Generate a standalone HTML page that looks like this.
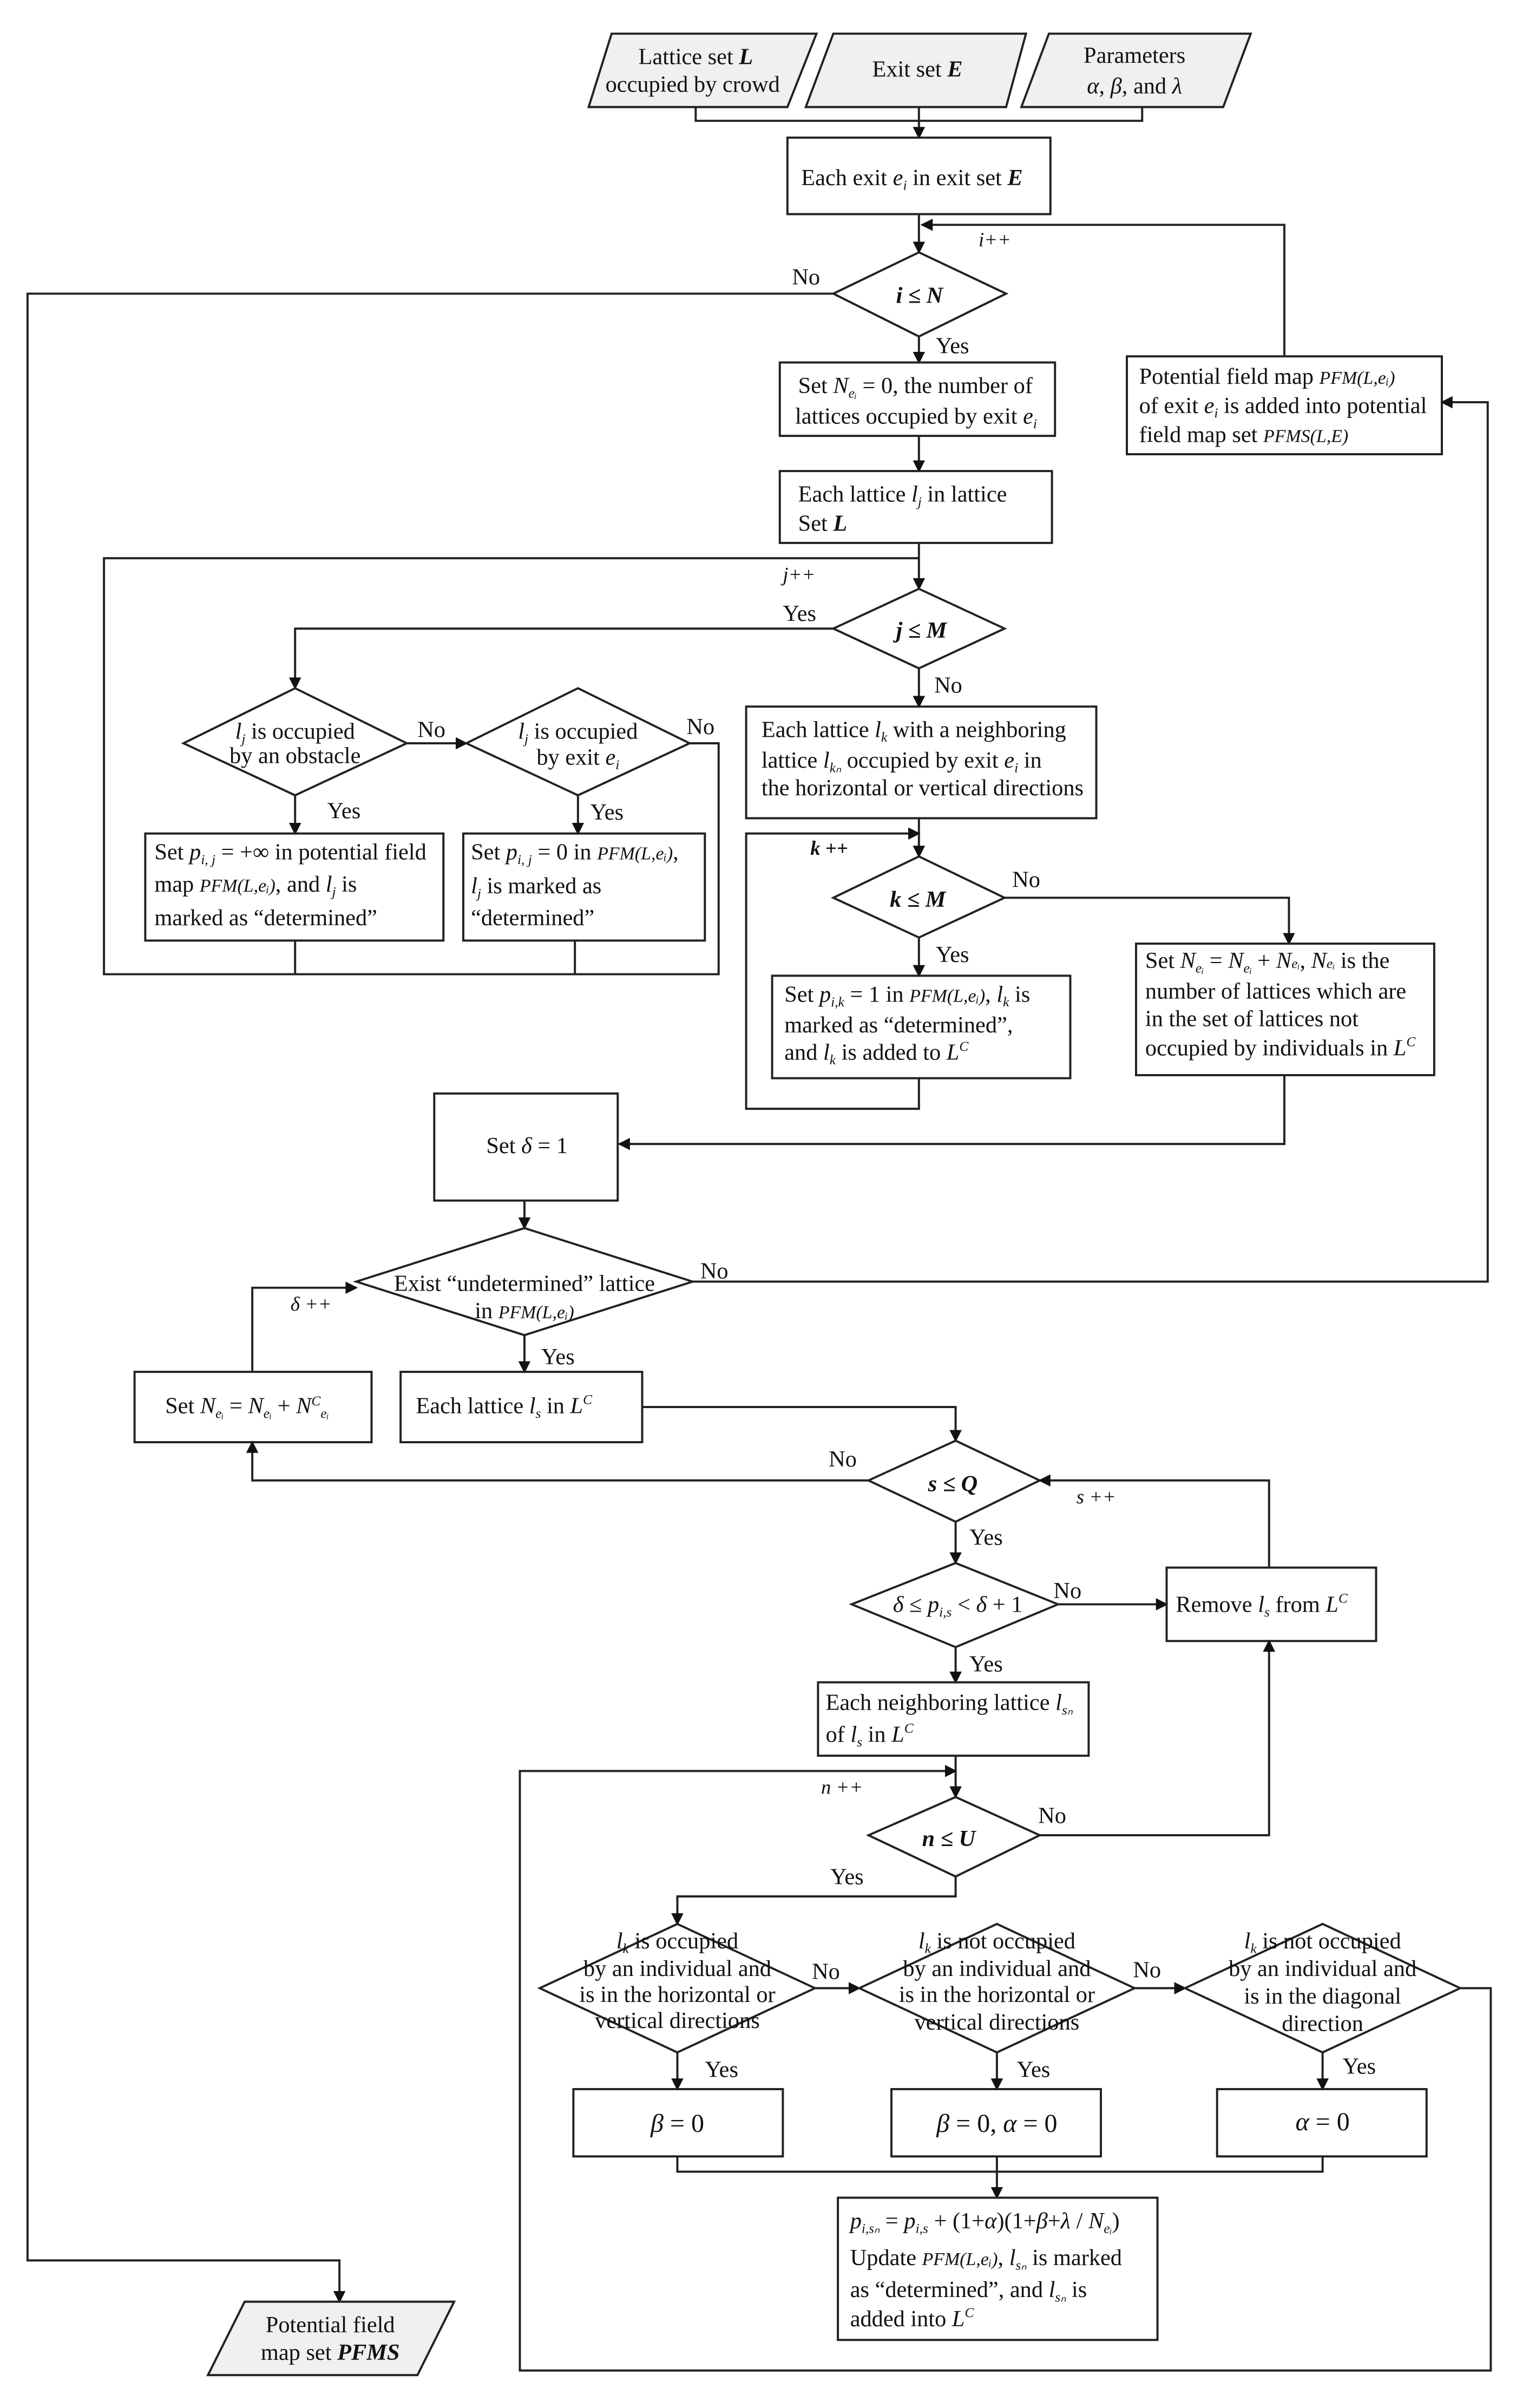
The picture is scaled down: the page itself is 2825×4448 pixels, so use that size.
<!DOCTYPE html>
<html><head><meta charset="utf-8"><style>
html,body{margin:0;padding:0;background:#fff;}
svg{display:block;}
text{font-family:"Liberation Serif",serif;font-size:15px;fill:#111;}
.i{font-style:italic;}
.b{font-weight:bold;font-style:italic;}
.s{font-size:9px;font-style:italic;}
</style></head><body>
<svg width="2825" height="4448" viewBox="0 0 1000 1574.5" xmlns="http://www.w3.org/2000/svg">
<defs><marker id="a" markerWidth="8" markerHeight="10" refX="7" refY="4" orient="auto" markerUnits="userSpaceOnUse"><path d="M0,0 L8,4 L0,8 z" fill="#111"/></marker></defs>
<g fill="none" stroke="#222" stroke-width="1.4">
<!-- inputs -->
<polygon points="400,22 534,22 515,70 385,70" fill="#f0f0f0"/>
<polygon points="545,22 671,22 658,70 527,70" fill="#f0f0f0"/>
<polygon points="686,22 818,22 800,70 668,70" fill="#f0f0f0"/>
<polyline points="455,70 455,79 747,79 747,70"/>
<line x1="601" y1="70" x2="601" y2="90" marker-end="url(#a)"/>
<rect x="515" y="90" width="172" height="50"/>
<line x1="601" y1="140" x2="601" y2="165" marker-end="url(#a)"/>
<polyline points="840,233 840,147 603,147" marker-end="url(#a)"/>
<polygon points="601,165 658,192 601,220 545,192"/>
<polyline points="545,192 18,192 18,1478 222,1478 222,1505" marker-end="url(#a)"/>
<polygon points="160,1505 297,1505 273,1553 136,1553" fill="#f0f0f0"/>
<line x1="601" y1="220" x2="601" y2="237" marker-end="url(#a)"/>
<rect x="510" y="237" width="180" height="48"/>
<line x1="601" y1="285" x2="601" y2="308" marker-end="url(#a)"/>
<rect x="510" y="308" width="178" height="47"/>
<line x1="601" y1="355" x2="601" y2="385" marker-end="url(#a)"/>
<rect x="737" y="233" width="206" height="64"/>
<polygon points="601,385 657,411 601,437 545,411"/>
<polyline points="545,411 193,411 193,450" marker-end="url(#a)"/>
<polygon points="193,450 266,486 193,520 120,486"/>
<line x1="266" y1="486" x2="305" y2="486" marker-end="url(#a)"/>
<polygon points="378,450 451,486 378,520 305,486"/>
<polyline points="451,486 470,486 470,637 68,637 68,365 601,365"/>
<line x1="193" y1="520" x2="193" y2="545" marker-end="url(#a)"/>
<line x1="378" y1="520" x2="378" y2="545" marker-end="url(#a)"/>
<rect x="95" y="545" width="195" height="70"/>
<rect x="303" y="545" width="158" height="70"/>
<line x1="193" y1="615" x2="193" y2="637"/>
<line x1="376" y1="615" x2="376" y2="637"/>
<line x1="601" y1="437" x2="601" y2="462" marker-end="url(#a)"/>
<rect x="488" y="462" width="229" height="73"/>
<line x1="601" y1="535" x2="601" y2="560" marker-end="url(#a)"/>
<polygon points="601,560 657,587 601,613 545,587"/>
<polyline points="657,587 843,587 843,617" marker-end="url(#a)"/>
<rect x="743" y="617" width="195" height="86"/>
<line x1="601" y1="613" x2="601" y2="638" marker-end="url(#a)"/>
<rect x="505" y="638" width="195" height="67"/>
<polyline points="601,705 601,725 488,725 488,545 601,545" marker-end="url(#a)"/>
<polyline points="840,703 840,748 405,748" marker-end="url(#a)"/>
<rect x="284" y="715" width="120" height="70"/>
<line x1="343" y1="785" x2="343" y2="803" marker-end="url(#a)"/>
<polygon points="343,803 453,838 343,873 233,838"/>
<polyline points="453,838 973,838 973,263 943,263" marker-end="url(#a)"/>
<line x1="343" y1="873" x2="343" y2="897" marker-end="url(#a)"/>
<rect x="262" y="897" width="158" height="46"/>
<polyline points="420,920 625,920 625,942" marker-end="url(#a)"/>
<rect x="88" y="897" width="155" height="46"/>
<polyline points="165,897 165,842 233,842" marker-end="url(#a)"/>
<polygon points="625,942 680,968 625,995 568,968"/>
<polyline points="568,968 165,968 165,943" marker-end="url(#a)"/>
<line x1="625" y1="995" x2="625" y2="1022" marker-end="url(#a)"/>
<polygon points="625,1022 692,1049 625,1077 557,1049"/>
<line x1="692" y1="1049" x2="763" y2="1049" marker-end="url(#a)"/>
<rect x="763" y="1025" width="137" height="48"/>
<polyline points="830,1025 830,968 680,968" marker-end="url(#a)"/>
<line x1="625" y1="1077" x2="625" y2="1100" marker-end="url(#a)"/>
<rect x="535" y="1100" width="177" height="48"/>
<line x1="625" y1="1148" x2="625" y2="1175" marker-end="url(#a)"/>
<polygon points="625,1175 680,1200 625,1227 568,1200"/>
<polyline points="680,1200 830,1200 830,1073" marker-end="url(#a)"/>
<polyline points="625,1227 625,1240 443,1240 443,1258" marker-end="url(#a)"/>
<polygon points="443,1258 533,1300 443,1342 353,1300"/>
<line x1="533" y1="1300" x2="562" y2="1300" marker-end="url(#a)"/>
<polygon points="652,1258 742,1300 652,1342 562,1300"/>
<line x1="742" y1="1300" x2="775" y2="1300" marker-end="url(#a)"/>
<polygon points="865,1258 955,1300 865,1342 775,1300"/>
<polyline points="955,1300 975,1300 975,1550 340,1550 340,1158 625,1158" marker-end="url(#a)"/>
<line x1="443" y1="1342" x2="443" y2="1366" marker-end="url(#a)"/>
<line x1="652" y1="1342" x2="652" y2="1366" marker-end="url(#a)"/>
<line x1="865" y1="1342" x2="865" y2="1366" marker-end="url(#a)"/>
<rect x="375" y="1366" width="137" height="44"/>
<rect x="583" y="1366" width="137" height="44"/>
<rect x="796" y="1366" width="137" height="44"/>
<polyline points="443,1410 443,1420 865,1420 865,1410"/>
<line x1="652" y1="1410" x2="652" y2="1437" marker-end="url(#a)"/>
<rect x="548" y="1437" width="209" height="93"/>
</g>
<g>
<text x="455" y="42" text-anchor="middle">Lattice set <tspan class="b">L</tspan></text>
<text x="453" y="60" text-anchor="middle">occupied by crowd</text>
<text x="600" y="50" text-anchor="middle">Exit set <tspan class="b">E</tspan></text>
<text x="742" y="41" text-anchor="middle">Parameters</text>
<text x="742" y="61" text-anchor="middle"><tspan class="i">α</tspan>,  <tspan class="i">β</tspan>,  and <tspan class="i">λ</tspan></text>
<text x="524" y="121">Each exit  <tspan class="i">e</tspan><tspan class="s" dy="3">i</tspan><tspan dy="-3"> in exit set </tspan><tspan class="b">E</tspan></text>
<text x="640" y="161" class="i" style="font-size:13px">i++</text>
<text x="518" y="186">No</text>
<text x="586" y="198" class="b" style="font-weight:bold">i ≤ N</text>
<text x="612" y="231">Yes</text>
<text x="522" y="257">Set  <tspan class="i">N</tspan><tspan class="s" dy="3">eᵢ</tspan><tspan dy="-3"> = 0, the number of</tspan></text>
<text x="520" y="277">lattices occupied by exit  <tspan class="i">e</tspan><tspan class="s" dy="3">i</tspan></text>
<text x="522" y="328">Each lattice  <tspan class="i">l</tspan><tspan class="s" dy="3">j</tspan><tspan dy="-3">  in lattice</tspan></text>
<text x="522" y="347">Set <tspan class="b">L</tspan></text>
<text x="745" y="251">Potential field map  <tspan class="i" style="font-size:12px">PFM(L,eᵢ)</tspan></text>
<text x="745" y="270">of exit  <tspan class="i">e</tspan><tspan class="s" dy="3">i</tspan><tspan dy="-3"> is added into potential</tspan></text>
<text x="745" y="289">field map set  <tspan class="i" style="font-size:12px">PFMS(L,E)</tspan></text>
<text x="512" y="380" class="i" style="font-size:13px">j++</text>
<text x="512" y="406">Yes</text>
<text x="586" y="417" class="b" style="font-weight:bold">j ≤ M</text>
<text x="611" y="453">No</text>
<text x="193" y="483" text-anchor="middle"><tspan class="i">l</tspan><tspan class="s" dy="3">j</tspan><tspan dy="-3"> is occupied</tspan></text>
<text x="193" y="499" text-anchor="middle">by an obstacle</text>
<text x="273" y="482">No</text>
<text x="378" y="483" text-anchor="middle"><tspan class="i">l</tspan><tspan class="s" dy="3">j</tspan><tspan dy="-3"> is occupied</tspan></text>
<text x="378" y="500" text-anchor="middle">by exit <tspan class="i">e</tspan><tspan class="s" dy="3">i</tspan></text>
<text x="449" y="480">No</text>
<text x="214" y="535">Yes</text>
<text x="386" y="536">Yes</text>
<text x="101" y="562">Set  <tspan class="i">p</tspan><tspan class="s" dy="3">i, j</tspan><tspan dy="-3"> = +∞ in potential field</tspan></text>
<text x="101" y="583">map <tspan class="i" style="font-size:12px">PFM(L,eᵢ)</tspan>, and  <tspan class="i">l</tspan><tspan class="s" dy="3">j</tspan><tspan dy="-3">  is</tspan></text>
<text x="101" y="605">marked as “determined”</text>
<text x="308" y="562">Set  <tspan class="i">p</tspan><tspan class="s" dy="3">i, j</tspan><tspan dy="-3"> = 0 in  </tspan><tspan class="i" style="font-size:12px">PFM(L,eᵢ)</tspan>,</text>
<text x="308" y="584"><tspan class="i">l</tspan><tspan class="s" dy="3">j</tspan><tspan dy="-3">  is  marked as</tspan></text>
<text x="308" y="605">“determined”</text>
<text x="498" y="482">Each lattice  <tspan class="i">l</tspan><tspan class="s" dy="3">k</tspan><tspan dy="-3"> with a neighboring</tspan></text>
<text x="498" y="502">lattice  <tspan class="i">l</tspan><tspan class="s" dy="3">kₙ</tspan><tspan dy="-3">  occupied by exit  </tspan><tspan class="i">e</tspan><tspan class="s" dy="3">i</tspan><tspan dy="-3">  in</tspan></text>
<text x="498" y="520">the horizontal or vertical directions</text>
<text x="530" y="559" class="b" style="font-size:13px">k ++</text>
<text x="582" y="593" class="b" style="font-weight:bold">k ≤ M</text>
<text x="662" y="580">No</text>
<text x="612" y="629">Yes</text>
<text x="513" y="655">Set  <tspan class="i">p</tspan><tspan class="s" dy="3">i,k</tspan><tspan dy="-3"> = 1  in  </tspan><tspan class="i" style="font-size:12px">PFM(L,eᵢ)</tspan>,  <tspan class="i">l</tspan><tspan class="s" dy="3">k</tspan><tspan dy="-3">  is</tspan></text>
<text x="513" y="675">marked as  “determined”,</text>
<text x="513" y="693">and  <tspan class="i">l</tspan><tspan class="s" dy="3">k</tspan><tspan dy="-3"> is added to  </tspan><tspan class="i">L</tspan><tspan class="s" dy="-6">C</tspan></text>
<text x="749" y="633">Set  <tspan class="i">N</tspan><tspan class="s" dy="3">eᵢ</tspan><tspan dy="-3"> = </tspan><tspan class="i">N</tspan><tspan class="s" dy="3">eᵢ</tspan><tspan dy="-3"> + </tspan><tspan class="i">N</tspan><tspan class="s">eᵢ</tspan><tspan>,  </tspan><tspan class="i">N</tspan><tspan class="s">eᵢ</tspan><tspan> is the</tspan></text>
<text x="749" y="653">number of lattices which are</text>
<text x="749" y="671">in the set of lattices not</text>
<text x="749" y="690">occupied by individuals in  <tspan class="i">L</tspan><tspan class="s" dy="-6">C</tspan></text>
<text x="318" y="754">Set   <tspan class="i">δ</tspan> = 1</text>
<text x="343" y="844" text-anchor="middle">Exist “undetermined” lattice</text>
<text x="343" y="862" text-anchor="middle">in <tspan class="i" style="font-size:12px">PFM(L,eᵢ)</tspan></text>
<text x="458" y="836">No</text>
<text x="190" y="857" class="i" style="font-size:13px">δ ++</text>
<text x="354" y="892">Yes</text>
<text x="272" y="924">Each lattice  <tspan class="i">l</tspan><tspan class="s" dy="3">s</tspan><tspan dy="-3">  in  </tspan><tspan class="i">L</tspan><tspan class="s" dy="-6">C</tspan></text>
<text x="108" y="924">Set   <tspan class="i">N</tspan><tspan class="s" dy="3">eᵢ</tspan><tspan dy="-3"> = </tspan><tspan class="i">N</tspan><tspan class="s" dy="3">eᵢ</tspan><tspan dy="-3"> + </tspan><tspan class="i">N</tspan><tspan class="s" dy="-5">C</tspan><tspan class="s" dy="8">eᵢ</tspan></text>
<text x="542" y="959">No</text>
<text x="607" y="975" class="b" style="font-weight:bold">s ≤ Q</text>
<text x="704" y="983" class="i" style="font-size:13px">s ++</text>
<text x="634" y="1010">Yes</text>
<text x="584" y="1054"><tspan class="i">δ</tspan> ≤ <tspan class="i">p</tspan><tspan class="s" dy="3">i,s</tspan><tspan dy="-3"> &lt; </tspan><tspan class="i">δ</tspan> + 1</text>
<text x="689" y="1045">No</text>
<text x="769" y="1054">Remove  <tspan class="i">l</tspan><tspan class="s" dy="3">s</tspan><tspan dy="-3">  from   </tspan><tspan class="i">L</tspan><tspan class="s" dy="-6">C</tspan></text>
<text x="634" y="1093">Yes</text>
<text x="540" y="1118">Each neighboring lattice  <tspan class="i">l</tspan><tspan class="s" dy="3">sₙ</tspan></text>
<text x="540" y="1139">of  <tspan class="i">l</tspan><tspan class="s" dy="3">s</tspan><tspan dy="-3">  in  </tspan><tspan class="i">L</tspan><tspan class="s" dy="-6">C</tspan></text>
<text x="537" y="1173" class="i" style="font-size:13px">n ++</text>
<text x="603" y="1207" class="b" style="font-weight:bold">n ≤ U</text>
<text x="679" y="1192">No</text>
<text x="543" y="1232">Yes</text>
<text x="443" y="1274" text-anchor="middle"><tspan class="i">l</tspan><tspan class="s" dy="3">k</tspan><tspan dy="-3"> is occupied</tspan></text>
<text x="443" y="1292" text-anchor="middle">by an individual and</text>
<text x="443" y="1309" text-anchor="middle">is in the horizontal or</text>
<text x="443" y="1326" text-anchor="middle">vertical directions</text>
<text x="531" y="1294">No</text>
<text x="652" y="1274" text-anchor="middle"><tspan class="i">l</tspan><tspan class="s" dy="3">k</tspan><tspan dy="-3"> is not occupied</tspan></text>
<text x="652" y="1292" text-anchor="middle">by an individual and</text>
<text x="652" y="1309" text-anchor="middle">is in the horizontal or</text>
<text x="652" y="1327" text-anchor="middle">vertical directions</text>
<text x="741" y="1293">No</text>
<text x="865" y="1274" text-anchor="middle"><tspan class="i">l</tspan><tspan class="s" dy="3">k</tspan><tspan dy="-3"> is not occupied</tspan></text>
<text x="865" y="1292" text-anchor="middle">by an individual and</text>
<text x="865" y="1310" text-anchor="middle">is in the diagonal</text>
<text x="865" y="1328" text-anchor="middle">direction</text>
<text x="461" y="1358">Yes</text>
<text x="665" y="1358">Yes</text>
<text x="878" y="1356">Yes</text>
<text x="443" y="1394" text-anchor="middle" style="font-size:17px"><tspan class="i">β</tspan> = 0</text>
<text x="652" y="1394" text-anchor="middle" style="font-size:17px"><tspan class="i">β</tspan> = 0,  <tspan class="i">α</tspan> = 0</text>
<text x="865" y="1393" text-anchor="middle" style="font-size:17px"><tspan class="i">α</tspan> = 0</text>
<text x="556" y="1457"><tspan class="i">p</tspan><tspan class="s" dy="3">i,sₙ</tspan><tspan dy="-3"> = </tspan><tspan class="i">p</tspan><tspan class="s" dy="3">i,s</tspan><tspan dy="-3"> + (1+</tspan><tspan class="i">α</tspan>)(1+<tspan class="i">β</tspan>+<tspan class="i">λ</tspan> / <tspan class="i">N</tspan><tspan class="s" dy="3">eᵢ</tspan><tspan dy="-3">)</tspan></text>
<text x="556" y="1481">Update <tspan class="i" style="font-size:12px">PFM(L,eᵢ)</tspan>,  <tspan class="i">l</tspan><tspan class="s" dy="3">sₙ</tspan><tspan dy="-3"> is marked</tspan></text>
<text x="556" y="1502">as  “determined”, and  <tspan class="i">l</tspan><tspan class="s" dy="3">sₙ</tspan><tspan dy="-3">  is</tspan></text>
<text x="556" y="1521">added into  <tspan class="i">L</tspan><tspan class="s" dy="-6">C</tspan></text>
<text x="216" y="1525" text-anchor="middle">Potential field</text>
<text x="216" y="1543" text-anchor="middle">map set <tspan class="b">PFMS</tspan></text>
</g>
</svg>
</body></html>
